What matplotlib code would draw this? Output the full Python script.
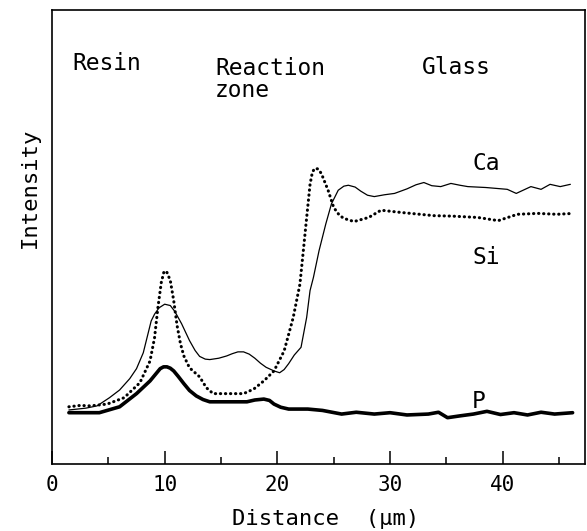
import matplotlib
matplotlib.use("Agg")
import matplotlib.pyplot as plt
from matplotlib.ticker import MultipleLocator

# ---- data (distance in um, intensity in arbitrary units) ----
ca_x = [1.5, 3.0, 4.0, 5.1, 6.0, 6.9, 7.5, 8.1, 8.5, 8.8, 9.1, 9.5, 10.0, 10.5, 10.9,
        11.5, 12.2, 12.7, 13.1, 13.6, 14.0, 14.8, 15.5, 16.0, 16.5, 17.0, 17.5, 18.0,
        18.5, 19.0, 19.7, 20.2, 20.6, 21.0, 21.5, 22.1, 22.6, 22.9, 23.2, 23.7,
        24.3, 24.8, 25.4, 25.9, 26.3, 26.9, 27.4, 28.0, 28.6, 29.5, 30.4, 31.5, 32.3,
        33.0, 33.7, 34.5, 35.4, 36.2, 36.9, 38.5, 40.4, 41.2, 42.5, 43.4, 44.2, 45.1, 46.0]
ca_y = [11.9, 12.3, 12.8, 14.6, 16.3, 18.8, 21.0, 24.5, 28.5, 31.5, 33.0, 34.4, 35.2, 34.9, 33.6,
        30.9, 27.2, 25.0, 23.7, 23.1, 23.0, 23.3, 23.8, 24.3, 24.7, 24.7, 24.2, 23.3,
        22.2, 21.3, 20.5, 20.1, 20.8, 22.1, 24.0, 25.7, 32.3, 38.2, 41.1, 47.0,
        52.9, 57.3, 60.3, 61.2, 61.4, 61.0, 60.1, 59.2, 58.9, 59.3, 59.6, 60.6, 61.5,
        62.0, 61.3, 61.1, 61.8, 61.4, 61.1, 60.9, 60.5, 59.6, 61.1, 60.5, 61.6, 61.1, 61.6]

si_x = [1.5, 2.5, 3.4, 4.9, 6.4, 7.8, 8.7, 9.1, 9.4, 9.7, 9.95, 10.2, 10.5, 10.8, 11.1,
        11.4, 11.7, 12.2, 13.1, 13.7, 14.3, 15.5, 17.0, 17.9, 18.8, 19.7, 20.6, 21.4,
        22.0, 22.3, 22.6, 22.9, 23.1, 23.3, 23.6, 23.9, 24.5, 25.0, 25.5, 25.9, 26.8,
        28.1, 29.2, 31.0, 33.9, 35.5, 37.8, 39.6, 41.3, 43.1, 44.8, 46.3]
si_y = [12.6, 12.9, 12.8, 13.2, 14.6, 17.9, 22.7, 27.8, 34.5, 40.0, 42.5, 42.2, 40.4, 36.0, 30.5,
        26.5, 23.8, 21.2, 19.2, 16.8, 15.5, 15.5, 15.5, 16.5, 18.3, 20.5, 24.9, 32.2,
        39.6, 46.9, 54.3, 61.6, 64.2, 65.1, 65.0, 64.0, 60.3, 56.5, 54.8, 54.1, 53.4,
        54.3, 55.9, 55.4, 54.7, 54.6, 54.3, 53.6, 55.0, 55.2, 55.0, 55.2]

p_x = [1.5, 4.2, 6.0, 7.5, 8.7, 9.2, 9.6, 9.9, 10.2, 10.5, 10.8, 11.2, 11.7, 12.2, 12.8,
       13.4, 14.0, 15.5, 17.3, 18.0, 18.8, 19.3, 19.7, 20.3, 21.0, 22.7, 24.0, 25.7,
       27.0, 28.6, 30.0, 31.5, 33.4, 34.3, 35.1, 36.2, 37.4, 38.6, 39.8, 41.0, 42.2,
       43.4, 44.6, 46.2]
p_y = [11.3, 11.3, 12.6, 15.5, 18.3, 19.8, 21.0, 21.4, 21.4, 21.1, 20.5, 19.3, 17.7, 16.2, 15.0,
       14.2, 13.7, 13.7, 13.7, 14.1, 14.3, 14.0, 13.2, 12.5, 12.1, 12.1, 11.8, 11.0,
       11.4, 11.0, 11.3, 10.8, 11.0, 11.4, 10.2, 10.6, 11.0, 11.6, 10.9, 11.3, 10.8,
       11.4, 11.0, 11.3]

x_ticks = [0, 10, 20, 30, 40]

W, H = 587, 531
fig = plt.figure(figsize=(W / 100, H / 100), dpi=100)
ax = fig.add_axes([52 / W, 1 - 464 / H, (585 - 52) / W, (464 - 10) / H])

mono = "DejaVu Sans Mono"

ax.plot(ca_x, ca_y, color="black", lw=0.9, solid_capstyle="round", solid_joinstyle="round")
ax.plot(si_x, si_y, color="black", lw=2.2, linestyle=(0, (0.1, 1.55)),
        dash_capstyle="round")
ax.plot(p_x, p_y, color="black", lw=2.6, solid_capstyle="round", solid_joinstyle="round")

ax.set_xlim(0, 47.3)
ax.set_ylim(0, 100)
ax.set_xticks(x_ticks)
ax.set_xticklabels([str(t) for t in x_ticks], fontfamily=mono, fontsize=15)
ax.xaxis.set_minor_locator(MultipleLocator(5))
ax.tick_params(axis="x", which="major", direction="in", length=9.5, width=1.1, pad=8)
ax.tick_params(axis="x", which="minor", direction="in", length=5, width=1.1)
ax.set_yticks([])
for s in ax.spines.values():
    s.set_linewidth(1.2)

def ftext(x, y, s, **kw):
    fig.text(x / W, 1 - y / H, s, fontfamily=mono, color="black", **kw)

ftext(72, 64, "Resin", fontsize=16.5, ha="left", va="center")
ftext(215, 57, "Reaction\nzone", fontsize=16.5, ha="left", va="top", linespacing=0.95)
ftext(422, 68, "Glass", fontsize=16.5, ha="left", va="center")
ftext(473, 164, "Ca", fontsize=16.5, ha="left", va="center")
ftext(473, 258, "Si", fontsize=16.5, ha="left", va="center")
ftext(472, 402, "P", fontsize=16.5, ha="left", va="center")
ftext(30, 188, "Intensity", fontsize=16, ha="center", va="center", rotation=90)
ftext(326, 519, "Distance  (μm)", fontsize=16, ha="center", va="center")

fig.savefig("out.png", dpi=100)
